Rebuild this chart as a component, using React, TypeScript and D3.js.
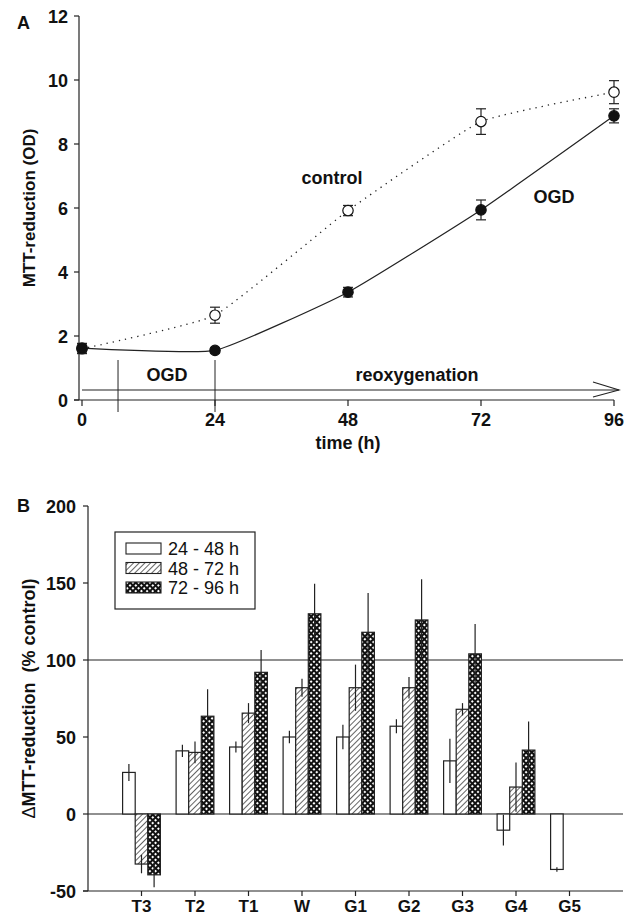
import * as React from 'react'
import * as d3 from 'd3'

const W = 633
const H = 918
const font = '"Liberation Sans", Arial, sans-serif'
const ink = '#222'

// panel A
const times = [0, 24, 48, 72, 96]
const controlMean = [1.6, 2.65, 5.92, 8.7, 9.62]
const controlErr = [0.15, 0.25, 0.16, 0.4, 0.36]
const ogdMean = [1.62, 1.55, 3.37, 5.94, 8.88]
const ogdErr = [0.15, 0.08, 0.15, 0.31, 0.22]
const yTicksA = [0, 2, 4, 6, 8, 10, 12]

// panel B
const groups = ['T3', 'T2', 'T1', 'W', 'G1', 'G2', 'G3', 'G4', 'G5']
const seriesNames = ['24 - 48 h', '48 - 72 h', '72 - 96 h']
const s1 = [27, 41, 43.5, 50, 50, 57, 34.5, -10.5, -36]
const s1Err = [5.5, 4, 3.5, 4, 8, 4.5, 14.3, 10, 1.5]
const s2 = [-32.5, 40, 65.5, 82, 82, 82, 68, 17.5, null]
const s2Err = [6, 7, 6.5, 5.8, 15, 7, 4, 16, null]
const s3 = [-39.5, 63.5, 92, 130, 118, 126, 104, 41.5, null]
const s3Err = [8, 17.5, 14.5, 19.5, 25.5, 26.5, 19.4, 18.5, null]
const yTicksB = [-50, 0, 50, 100, 150, 200]

const App = () => {
  // A scales
  const xA = d3.scaleLinear().domain([0, 96]).range([82, 614])
  const yA = d3.scaleLinear().domain([0, 12]).range([400, 16])
  const line = d3
    .line<number>()
    .x((_, i) => xA(times[i]))
    .y(d => yA(d))
    .curve(d3.curveCardinal.tension(0.6))

  // B scales
  const xB = d3.scaleLinear().domain([0, 10]).range([88, 623])
  const yB = d3.scaleLinear().domain([-50, 200]).range([891, 506])
  const barW = 12.6
  const series = [
    { vals: s1, err: s1Err, fill: 'white' },
    { vals: s2, err: s2Err, fill: 'url(#hatch)' },
    { vals: s3, err: s3Err, fill: 'url(#cross)' },
  ]

  const tickFont = { fontFamily: font, fontWeight: 700, fontSize: 18, fill: '#111' }

  return (
    <svg width={W} height={H} style={{ position: 'absolute', left: 0, top: 0 }}>
      <defs>
        <pattern id="hatch" width="4" height="4" patternUnits="userSpaceOnUse" patternTransform="rotate(45)">
          <rect width="4" height="4" fill="white" />
          <line x1="0" y1="0" x2="0" y2="4" stroke="#111" strokeWidth="1.3" />
        </pattern>
        <pattern id="cross" width="4" height="4" patternUnits="userSpaceOnUse" patternTransform="rotate(45)">
          <rect width="4" height="4" fill="#111" />
          <rect x="1" y="1" width="2" height="2" fill="white" />
        </pattern>
      </defs>

      {/* ---------- panel A ---------- */}
      <text x={17} y={29} style={tickFont}>A</text>
      <line x1={79} x2={79} y1={yA(12)} y2={yA(0)} stroke={ink} strokeWidth={1.2} />
      <line x1={74} x2={614} y1={yA(0)} y2={yA(0)} stroke={ink} strokeWidth={1.2} />
      {yTicksA.map(t => (
        <g key={t}>
          <line x1={74} x2={79} y1={yA(t)} y2={yA(t)} stroke={ink} strokeWidth={1.2} />
          <text x={68} y={yA(t) + 6.5} textAnchor="end" style={tickFont}>{t}</text>
        </g>
      ))}
      {times.map(t => (
        <g key={t}>
          <line x1={xA(t)} x2={xA(t)} y1={yA(0)} y2={yA(0) + 6} stroke={ink} strokeWidth={1.2} />
          <text x={xA(t)} y={yA(0) + 26} textAnchor="middle" style={tickFont}>{t}</text>
        </g>
      ))}
      <text x={xA(48)} y={449} textAnchor="middle" style={tickFont}>time (h)</text>
      <text
        transform={`translate(35, ${yA(6)}) rotate(-90)`}
        textAnchor="middle"
        style={{ ...tickFont, fontSize: 17 }}
      >
        MTT-reduction (OD)
      </text>

      {/* time course annotations */}
      <line x1={xA(6.5)} x2={xA(6.5)} y1={360} y2={412} stroke={ink} strokeWidth={1} />
      <line x1={xA(24)} x2={xA(24)} y1={360} y2={412} stroke={ink} strokeWidth={1} />
      <line x1={xA(0)} x2={619} y1={390} y2={390} stroke={ink} strokeWidth={1.1} />
      <polyline points="593,382 619,390 593,397" fill="none" stroke={ink} strokeWidth={1.1} />
      <text x={167} y={381} textAnchor="middle" style={tickFont}>OGD</text>
      <text x={417} y={381} textAnchor="middle" style={tickFont}>reoxygenation</text>
      <text x={332} y={184} textAnchor="middle" style={tickFont}>control</text>
      <text x={554} y={203} textAnchor="middle" style={tickFont}>OGD</text>

      <path d={line(controlMean) || ''} fill="none" stroke={ink} strokeWidth={1.3} strokeDasharray="1.3 5" />
      <path d={line(ogdMean) || ''} fill="none" stroke={ink} strokeWidth={1.2} />
      {[
        { m: controlMean, e: controlErr, fill: 'white' },
        { m: ogdMean, e: ogdErr, fill: '#111' },
      ].map((s, k) => (
        <g key={k}>
          {s.m.map((v, i) => (
            <g key={i} stroke={ink} strokeWidth={1.2}>
              <line x1={xA(times[i])} x2={xA(times[i])} y1={yA(v - s.e[i])} y2={yA(v + s.e[i])} />
              <line x1={xA(times[i]) - 5} x2={xA(times[i]) + 5} y1={yA(v - s.e[i])} y2={yA(v - s.e[i])} />
              <line x1={xA(times[i]) - 5} x2={xA(times[i]) + 5} y1={yA(v + s.e[i])} y2={yA(v + s.e[i])} />
              <circle cx={xA(times[i])} cy={yA(v)} r={5.2} fill={s.fill} stroke="#111" strokeWidth={1.2} />
            </g>
          ))}
        </g>
      ))}

      {/* ---------- panel B ---------- */}
      <text x={17} y={512} style={tickFont}>B</text>
      <line x1={88} x2={88} y1={yB(200)} y2={yB(-50)} stroke={ink} strokeWidth={1.2} />
      <line x1={83} x2={623} y1={yB(-50)} y2={yB(-50)} stroke={ink} strokeWidth={1.2} />
      <line x1={88} x2={623} y1={yB(0)} y2={yB(0)} stroke={ink} strokeWidth={1.2} />
      <line x1={88} x2={623} y1={yB(100)} y2={yB(100)} stroke={ink} strokeWidth={1.2} />
      {yTicksB.map(t => (
        <g key={t}>
          <line x1={83} x2={88} y1={yB(t)} y2={yB(t)} stroke={ink} strokeWidth={1.2} />
          <text x={76} y={yB(t) + 6.5} textAnchor="end" style={tickFont}>{t}</text>
        </g>
      ))}
      {groups.map((g, i) => (
        <g key={g}>
          <line x1={xB(i + 1)} x2={xB(i + 1)} y1={yB(-50)} y2={yB(-50) + 5} stroke={ink} strokeWidth={1.2} />
          <text x={xB(i + 1)} y={912} textAnchor="middle" style={{ ...tickFont, fontSize: 17 }}>{g}</text>
        </g>
      ))}
      <text
        transform={`translate(35, ${yB(75)}) rotate(-90)`}
        textAnchor="middle"
        style={{ ...tickFont, fontSize: 18 }}
        xmlSpace="preserve"
      >
        <tspan fontWeight={400}>Δ</tspan>MTT-reduction  (% control)
      </text>

      {series.map((s, k) => (
        <g key={k}>
          {s.vals.map((v, i) => {
            if (v === null) return null
            const x0 = xB(i + 1) - 1.5 * barW + k * barW
            const e = s.err[i] as number
            return (
              <g key={i}>
                <rect
                  x={x0}
                  y={Math.min(yB(v), yB(0))}
                  width={barW}
                  height={Math.abs(yB(v) - yB(0))}
                  fill={s.fill}
                  stroke={ink}
                  strokeWidth={1.2}
                />
                <line
                  x1={x0 + barW / 2}
                  x2={x0 + barW / 2}
                  y1={yB(v - e)}
                  y2={yB(v + e)}
                  stroke={ink}
                  strokeWidth={1.2}
                />
              </g>
            )
          })}
        </g>
      ))}

      {/* legend */}
      <rect x={115} y={532} width={140} height={77} fill="white" stroke={ink} strokeWidth={1.2} />
      {seriesNames.map((n, k) => (
        <g key={n}>
          <rect x={126} y={543 + k * 19.5} width={35} height={11} fill={series[k].fill} stroke={ink} strokeWidth={1.1} />
          <text x={168} y={555 + k * 19.5} style={{ fontFamily: font, fontSize: 18, fill: '#111' }}>{n}</text>
        </g>
      ))}
    </svg>
  )
}

export default App
